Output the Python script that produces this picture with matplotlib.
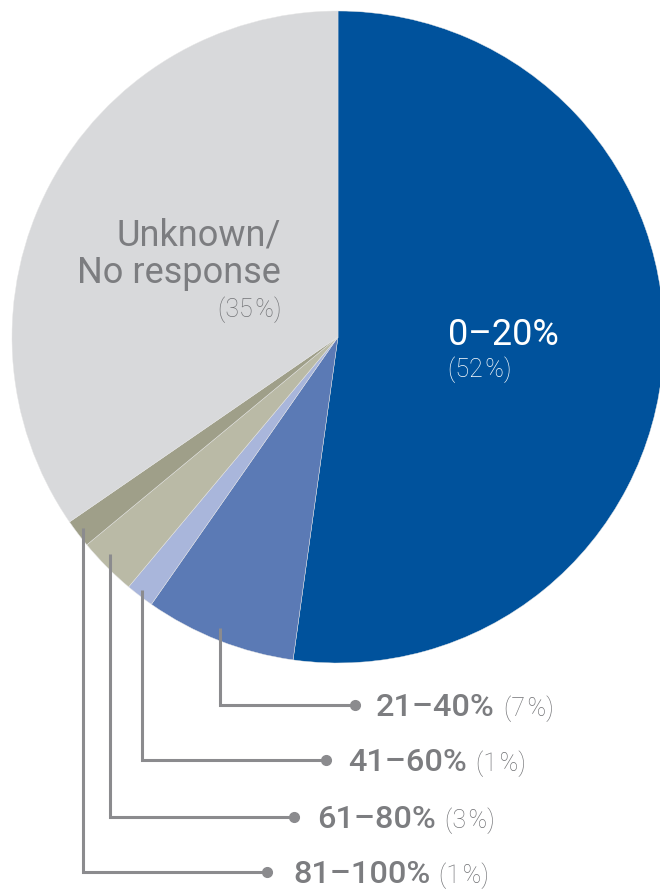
import matplotlib.pyplot as plt

plt.rcParams['font.family'] = ['Roboto', 'DejaVu Sans']

# share of respondents per bracket
labels = ["0–20%", "21–40%", "41–60%", "61–80%", "81–100%", "Unknown/\nNo response"]
shares = [52.2, 7.5, 1.4, 2.9, 1.4, 34.6]
pct_text = ["(52\u200a%)", "(7\u200a%)", "(1\u200a%)", "(3\u200a%)", "(1\u200a%)", "(35\u200a%)"]
colors = ["#00529c", "#5b7ab5", "#a9b6db", "#babaa6", "#9f9f89", "#d8d9db"]

W, H = 660, 889
fig = plt.figure(figsize=(W / 100, H / 100), dpi=100)
ax = fig.add_axes([0, 0, 1, 1])

cx, cy, r = 338, H - 337, 326
wedges, _ = ax.pie(shares, colors=colors, startangle=90, counterclock=False,
                   center=(cx, cy), radius=r, frame=True,
                   wedgeprops=dict(linewidth=0.3, edgecolor="#e6e6e6"))
ax.set_xlim(0, W)
ax.set_ylim(0, H)
ax.set_aspect('equal')
ax.axis('off')

txt_grey = "#7c7d80"
pct_grey = "#727376"
line_grey = "#8b8b8e"

# labels inside the pie
ax.text(448, H - 345, labels[0], color="white", fontsize=26, ha="left", va="baseline")
ax.text(448, H - 377, pct_text[0], color="white", fontsize=18, fontweight="light",
        ha="left", va="baseline")
unk = labels[5].split("\n")
ax.text(281, H - 245, unk[0], color=txt_grey, fontsize=26, ha="right", va="baseline")
ax.text(281, H - 283, unk[1], color=txt_grey, fontsize=26, ha="right", va="baseline")
ax.text(281, H - 317, pct_text[5], color=pct_grey, fontsize=18, fontweight="light",
        ha="right", va="baseline")

# leader lines for the small slices
anchor_x = [220, 142, 110, 83]
anchor_y = [628, 590, 554, 528]
row_y = [705, 760, 817, 872]
dot_x = [355, 326, 294, 267]
text_x = [376, 348, 317, 293]

fig.canvas.draw()
rend = fig.canvas.get_renderer()
for i in range(4):
    ax.plot([anchor_x[i], anchor_x[i], dot_x[i]],
            [H - anchor_y[i], H - row_y[i], H - row_y[i]],
            color=line_grey, lw=2.2, solid_joinstyle="miter", solid_capstyle="butt")
    ax.plot(dot_x[i], H - row_y[i], "o", color=line_grey, ms=7)
    t = ax.text(text_x[i], H - row_y[i] - 11, labels[i + 1], color=txt_grey,
                fontsize=23.4, fontweight="medium", ha="left", va="baseline")
    bb = t.get_window_extent(rend)
    x1 = ax.transData.inverted().transform((bb.x1, bb.y0))[0]
    ax.text(x1 + 9, H - row_y[i] - 11, pct_text[i + 1], color=pct_grey,
            fontsize=18, fontweight="light", ha="left", va="baseline")

fig.savefig("out.png", dpi=100)
